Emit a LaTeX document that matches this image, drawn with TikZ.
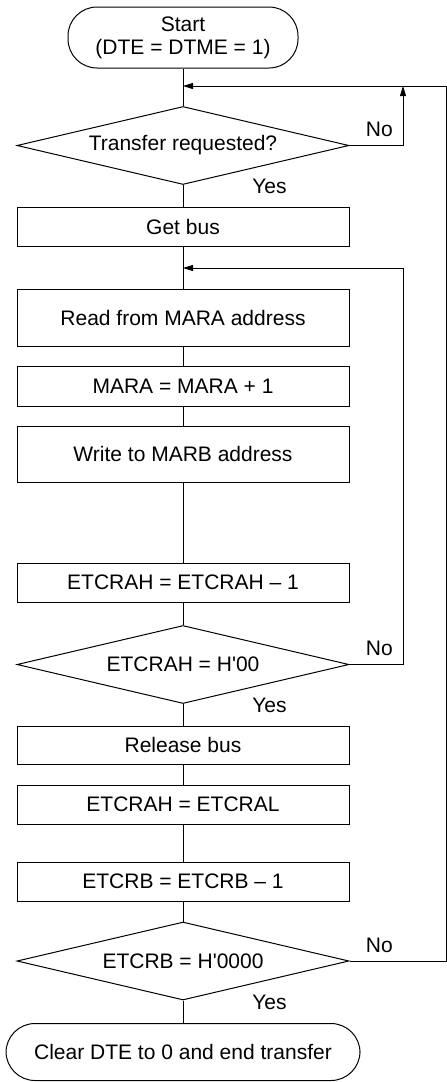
\documentclass[tikz,border=0pt]{standalone}
\usepackage{fontspec}
\setmainfont{Liberation Sans}
\usetikzlibrary{arrows.meta,shapes.geometric}

\begin{document}
\begin{tikzpicture}[
    x=1pt, y=-1pt,
    every node/.style={font=\fontsize{21}{23}\selectfont},
    terminal/.style={draw, line width=1pt, rectangle, rounded corners=29pt, align=center, inner sep=0pt},
    process/.style={draw, line width=1pt, rectangle, minimum width=332pt, inner sep=0pt},
    decision/.style={draw, line width=1pt, diamond, aspect=4.2, inner sep=1pt, minimum width=332pt, minimum height=78pt},
    flow/.style={line width=0.8pt},
    arr/.style={-{Triangle[length=10pt,width=6pt]}},
    nolbl/.style={anchor=south west, inner sep=0pt, xshift=16pt, yshift=8pt},
    yeslbl/.style={anchor=north west, inner sep=0pt, xshift=69pt, yshift=6pt}
]
\useasboundingbox (0,0) rectangle (447,1082);

% Terminals
\node[terminal, minimum width=230pt, minimum height=61pt] (start) at (183,37.5) {Start\\(DTE = DTME = 1)};
\node[terminal, minimum width=354pt, minimum height=57pt] (finish) at (183,1052) {Clear DTE to 0 and end transfer};

% Decisions
\node[decision] (req) at (183,145.5) {Transfer requested?};
\node[decision] (chka) at (183,664.5) {ETCRAH = H\textquotesingle 00};
\node[decision] (chkb) at (183,961) {ETCRB = H\textquotesingle 0000};

% Processing steps
\node[process, minimum height=39pt] (getbus) at (183,226.5) {Get bus};
\node[process, minimum height=57pt] (rda) at (183,317.5) {Read from MARA address};
\node[process, minimum height=40pt] (inca) at (183,386) {MARA = MARA + 1};
\node[process, minimum height=56pt] (wrb) at (183,454) {Write to MARB address};
\node[process, minimum height=39pt] (deca) at (183,582.5) {ETCRAH = ETCRAH -- 1};
\node[process, minimum height=38pt] (relbus) at (183,745) {Release bus};
\node[process, minimum height=39pt] (reload) at (183,804.5) {ETCRAH = ETCRAL};
\node[process, minimum height=39pt] (decb) at (183,881.5) {ETCRB = ETCRB -- 1};

% Join points and return rails
\coordinate (j1) at (183,86);
\coordinate (j2) at (183,268);
\coordinate (rail) at (403,0);
\coordinate (outer) at (446,0);

% Main flow
\draw[flow] (start) -- (req);
\draw[flow] (req) -- node[yeslbl, pos=0] {Yes} (getbus);
\draw[flow] (getbus) -- (rda);
\draw[flow] (rda) -- (inca);
\draw[flow] (inca) -- (wrb);
\draw[flow] (wrb) -- (deca);
\draw[flow] (deca) -- (chka);
\draw[flow] (chka) -- node[yeslbl, pos=0] {Yes} (relbus);
\draw[flow] (relbus) -- (reload);
\draw[flow] (reload) -- (decb);
\draw[flow] (decb) -- (chkb);
\draw[flow] (chkb) -- node[yeslbl, pos=0] {Yes} (finish);

% Loop-back lines
\draw[flow, arr] (req.east) -| node[nolbl, pos=0] {No} (j1 -| rail);
\draw[flow, arr] (chka.east) -| node[nolbl, pos=0] {No} (j2 -| rail) -- (j2);
\draw[flow, arr] (chkb.east) -| node[nolbl, pos=0] {No} (j1 -| outer) -- (j1);

\end{tikzpicture}
\end{document}
